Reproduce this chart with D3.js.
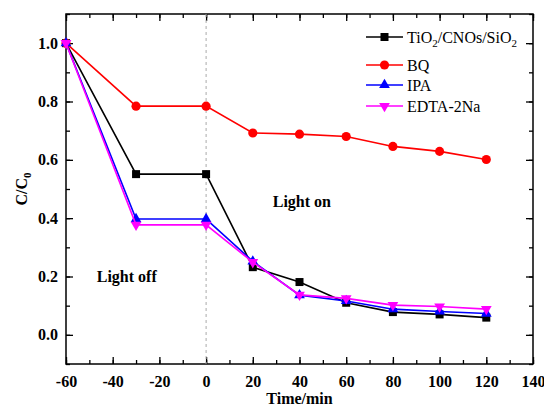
<!DOCTYPE html>
<html>
<head>
<meta charset="utf-8">
<script src="https://cdn.jsdelivr.net/npm/d3@7"></script>
<style>
  body { margin: 0; background: #fff; }
  text { font-family: "Liberation Serif", "Times New Roman", serif; }
</style>
</head>
<body>
<svg width="544" height="414"></svg>
<script>
var times = [-60, -30, 0, 20, 40, 60, 80, 100, 120];
var tiO2 = [1.0, 0.551, 0.551, 0.232, 0.181, 0.11, 0.078, 0.07, 0.059];
var bq = [1.0, 0.784, 0.784, 0.692, 0.688, 0.68, 0.646, 0.629, 0.601];
var ipa = [1.0, 0.397, 0.397, 0.252, 0.136, 0.116, 0.088, 0.08, 0.073];
var edta = [1.0, 0.377, 0.377, 0.249, 0.137, 0.125, 0.102, 0.097, 0.088];
var xTicks = [-60, -40, -20, 0, 20, 40, 60, 80, 100, 120, 140];
var yTicks = [0.0, 0.2, 0.4, 0.6, 0.8, 1.0];

var series = [
  {name: "TiO2/CNOs/SiO2", values: tiO2, color: "#000000", symbol: d3.symbolSquare, size: 64, rot: 0},
  {name: "BQ", values: bq, color: "#ff0000", symbol: d3.symbolCircle, size: 66, rot: 0},
  {name: "IPA", values: ipa, color: "#0000ff", symbol: d3.symbolTriangle, size: 50, rot: 0},
  {name: "EDTA-2Na", values: edta, color: "#ff00ff", symbol: d3.symbolTriangle, size: 50, rot: 180}
];

var svg = d3.select("svg"),
    margin = {top: 14, right: 11, bottom: 50, left: 66},
    width = svg.attr("width") - margin.left - margin.right,
    height = svg.attr("height") - margin.top - margin.bottom,
    g = svg.append("g").attr("transform", "translate(" + margin.left + "," + margin.top + ")");

var x = d3.scaleLinear().domain([-60, 140]).range([0, width]),
    y = d3.scaleLinear().domain([-0.1, 1.1]).range([height, 0]);

var minorX = d3.range(-60, 141, 10),
    minorY = d3.range(-0.1, 1.11, 0.1);

// plain hyphen instead of the unicode minus
var fmtX = function(d) { return String(d); };

// frame ticks (inward)
function tickStyle(sel) {
  sel.select(".domain").remove();
  sel.selectAll("line").attr("stroke", "#000").attr("stroke-width", 1.3);
  sel.selectAll("text").style("font-size", "16px").style("font-weight", "bold").attr("fill", "#000");
}

g.append("g").attr("transform", "translate(0," + height + ")")
  .call(d3.axisBottom(x).tickValues(minorX).tickSize(-4).tickFormat(""))
  .call(tickStyle);
g.append("g").attr("transform", "translate(0," + height + ")")
  .call(d3.axisBottom(x).tickValues(xTicks).tickSize(-7).tickPadding(12).tickFormat(fmtX))
  .call(tickStyle);
g.append("g")
  .call(d3.axisTop(x).tickValues(minorX).tickSize(-4).tickFormat(""))
  .call(tickStyle);
g.append("g")
  .call(d3.axisTop(x).tickValues(xTicks).tickSize(-7).tickFormat(""))
  .call(tickStyle);

g.append("g")
  .call(d3.axisLeft(y).tickValues(minorY).tickSize(-4).tickFormat(""))
  .call(tickStyle);
g.append("g")
  .call(d3.axisLeft(y).tickValues(yTicks).tickSize(-7).tickPadding(8).tickFormat(d3.format(".1f")))
  .call(tickStyle);
g.append("g").attr("transform", "translate(" + width + ",0)")
  .call(d3.axisRight(y).tickValues(minorY).tickSize(-4).tickFormat(""))
  .call(tickStyle);
g.append("g").attr("transform", "translate(" + width + ",0)")
  .call(d3.axisRight(y).tickValues(yTicks).tickSize(-7).tickFormat(""))
  .call(tickStyle);

g.append("rect")
  .attr("width", width).attr("height", height)
  .attr("fill", "none").attr("stroke", "#000").attr("stroke-width", 1.5);

// light on/off divider
g.append("line")
  .attr("x1", x(0)).attr("x2", x(0))
  .attr("y1", 0).attr("y2", height)
  .attr("stroke", "#aaa").attr("stroke-width", 1)
  .attr("stroke-dasharray", "3 3");

var line = d3.line()
  .x(function(d, i) { return x(times[i]); })
  .y(function(d) { return y(d); });

series.forEach(function(s) {
  g.append("path")
    .datum(s.values)
    .attr("d", line)
    .attr("fill", "none")
    .attr("stroke", s.color)
    .attr("stroke-width", 1.6);
  g.selectAll(null)
    .data(s.values)
    .enter()
    .append("path")
    .attr("d", d3.symbol().type(s.symbol).size(s.size))
    .attr("transform", function(d, i) {
      return "translate(" + x(times[i]) + "," + y(d) + ") rotate(" + s.rot + ")";
    })
    .attr("fill", s.color);
});

g.append("text")
  .text("Light on")
  .attr("x", x(41)).attr("y", y(0.44))
  .attr("text-anchor", "middle")
  .style("font-size", "16px").style("font-weight", "bold");

g.append("text")
  .text("Light off")
  .attr("x", x(-34)).attr("y", y(0.18))
  .attr("text-anchor", "middle")
  .style("font-size", "16px").style("font-weight", "bold");

// axis titles
svg.append("text")
  .attr("x", margin.left + x(40)).attr("y", 404)
  .attr("text-anchor", "middle")
  .style("font-size", "16px").style("font-weight", "bold")
  .text("Time/min");

var yl = svg.append("text")
  .attr("transform", "translate(27," + (margin.top + y(0.5)) + ") rotate(-90)")
  .attr("text-anchor", "middle")
  .style("font-size", "16px").style("font-weight", "bold");
yl.append("tspan").text("C/C");
yl.append("tspan").text("0").attr("dy", 4).style("font-size", "11px");

// legend
var legend = svg.append("g");
var rowY = [37, 65, 85, 106];
series.forEach(function(s, i) {
  var row = legend.append("g").attr("transform", "translate(366," + rowY[i] + ")");
  row.append("line").attr("x1", 0).attr("x2", 37)
    .attr("stroke", s.color).attr("stroke-width", 1.6);
  row.append("path")
    .attr("d", d3.symbol().type(s.symbol).size(s.size))
    .attr("transform", "translate(18.5,0) rotate(" + s.rot + ")")
    .attr("fill", s.color);
  var t = row.append("text").attr("x", 41).attr("y", 5.5).style("font-size", "16px");
  if (s.name === "TiO2/CNOs/SiO2") {
    t.append("tspan").text("TiO");
    t.append("tspan").text("2").attr("dy", 4).style("font-size", "11px");
    t.append("tspan").text("/CNOs/SiO").attr("dy", -4);
    t.append("tspan").text("2").attr("dy", 4).style("font-size", "11px");
  } else {
    t.text(s.name);
  }
});
</script>
</body>
</html>
